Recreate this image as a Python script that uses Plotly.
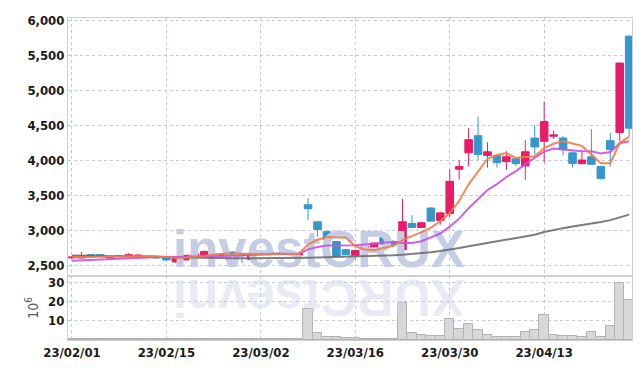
import plotly.graph_objects as go

# ---------------- data ----------------
date_ticks_idx = [0, 10, 20, 30, 40, 50]
date_ticks_text = ["23/02/01", "23/02/15", "23/03/02", "23/03/16", "23/03/30", "23/04/13"]

idx = list(range(60))

opens = [2605, 2603, 2652, 2652, 2603, 2625, 2625, 2625, 2622, 2622,
         2617, 2547, 2575, 2622, 2641, 2650, 2641, 2688, 2660, 2580,
         2680, 2685, 2655, 2655, 2645, 3365, 3121, 2980, 2839, 2721,
         2641, 2721, 2711, 2895, 2839, 2721, 3097, 3040, 3318, 3140,
         3238, 3873, 4108, 4353, 4070, 4070, 3981, 4024, 3921, 4320,
         4273, 4345, 4320, 4108, 3953, 4052, 3911, 4282, 4400, 5778]
highs = [2630, 2690, 2655, 2655, 2618, 2640, 2670, 2650, 2628, 2625,
         2620, 2600, 2645, 2680, 2710, 2660, 2670, 2695, 2665, 2675,
         2685, 2690, 2680, 2672, 2690, 3460, 3130, 2990, 2845, 2725,
         2715, 2780, 2820, 2900, 2855, 3450, 3215, 3120, 3325, 3265,
         3873, 4005, 4461, 4626, 4259, 4075, 4132, 4030, 4288, 4508,
         4840, 4424, 4353, 4132, 4118, 4447, 3915, 4391, 5400, 5790]
lows = [2590, 2600, 2620, 2618, 2598, 2620, 2620, 2620, 2608, 2598,
        2560, 2530, 2570, 2618, 2635, 2645, 2635, 2645, 2532, 2560,
        2650, 2660, 2650, 2650, 2620, 3150, 2909, 2815, 2620, 2645,
        2580, 2700, 2705, 2795, 2760, 2715, 3035, 3030, 3125, 3080,
        3190, 3723, 3911, 4005, 3897, 3897, 3864, 3920, 3723, 4085,
        3967, 4306, 4070, 3897, 3944, 3940, 3725, 3911, 4273, 4344]
closes = [2615, 2632, 2625, 2622, 2613, 2634, 2650, 2645, 2612, 2603,
          2575, 2594, 2641, 2660, 2697, 2655, 2665, 2651, 2640, 2669,
          2655, 2665, 2670, 2665, 2670, 3308, 3012, 2863, 2627, 2651,
          2711, 2768, 2815, 2800, 2792, 3121, 3040, 3107, 3130, 3248,
          3700, 3911, 4296, 4085, 4123, 3967, 4052, 3953, 4123, 4193,
          4555, 4365, 4155, 3956, 4005, 3944, 3742, 4155, 5393, 4461]

ma_short = [2615, 2618, 2620, 2620, 2621, 2625, 2629, 2633, 2631, 2629,
            2617, 2606, 2605, 2615, 2633, 2649, 2664, 2666, 2662, 2656,
            2656, 2656, 2660, 2665, 2665, 2796, 2865, 2904, 2896, 2892,
            2773, 2724, 2714, 2749, 2777, 2859, 2914, 2972, 3038, 3129,
            3245, 3419, 3657, 3848, 4023, 4076, 4105, 4036, 4044, 4058,
            4175, 4238, 4278, 4245, 4207, 4085, 3960, 3960, 4248, 4339]
ma_mid = [2562, 2568, 2575, 2582, 2590, 2597, 2604, 2610, 2618, 2625,
          2621, 2617, 2619, 2623, 2631, 2633, 2635, 2635, 2638, 2645,
          2653, 2660, 2663, 2663, 2661, 2726, 2761, 2782, 2780, 2779,
          2784, 2795, 2809, 2823, 2835, 2816, 2819, 2843, 2894, 2953,
          3052, 3166, 3315, 3443, 3576, 3661, 3762, 3847, 3946, 4040,
          4126, 4171, 4157, 4144, 4132, 4130, 4099, 4119, 4246, 4273]
ma_long = [2640, 2637, 2634, 2631, 2628, 2625, 2622, 2619, 2616, 2613,
           2610, 2607, 2605, 2603, 2601, 2600, 2599, 2598, 2598, 2598,
           2598, 2599, 2600, 2601, 2603, 2606, 2609, 2612, 2615, 2618,
           2622, 2626, 2631, 2636, 2642, 2650, 2660, 2672, 2686, 2703,
           2721, 2745, 2770, 2793, 2815, 2840, 2862, 2885, 2910, 2935,
           2975, 3005, 3030, 3052, 3072, 3092, 3118, 3145, 3185, 3224]

volume = [0.3, 0.3, 0.3, 0.3, 0.3, 0.3, 0.3, 0.3, 0.3, 0.3,
          0.3, 0.3, 0.3, 0.3, 0.3, 0.3, 0.3, 0.3, 0.3, 0.3,
          0.3, 0.3, 0.3, 0.3, 0.3, 16.3, 3.7, 1.6, 1.6, 0.8,
          0.8, 0.7, 0.7, 0.7, 0.7, 19.3, 3.7, 2.7, 2.0, 2.0,
          10.9, 5.7, 8.1, 5.2, 2.7, 1.6, 1.6, 1.6, 4.1, 5.2,
          13.1, 2.7, 2.0, 2.0, 1.6, 4.1, 1.6, 7.2, 29.8, 20.8]

price_ticks = [2500, 3000, 3500, 4000, 4500, 5000, 5500, 6000]
vol_ticks = [10, 20, 30]

# ---------------- styles ----------------
RED = "rgb(232,28,104)"
BLUE = "rgb(52,152,204)"
GRID = "rgb(196,200,218)"
BORDER = "rgb(205,205,212)"
FONT = "DejaVu Sans Condensed"
WM = "rgb(196,205,227)"

fig = go.Figure()

# watermark (drawn under the data)
fig.add_trace(go.Scatter(
    x=[26.15], y=[2660], mode="text", text=["<b>investCRUX</b>"],
    textfont=dict(family="Liberation Sans", size=51, color=WM),
    textposition="middle center", hoverinfo="skip", showlegend=False,
    xaxis="x", yaxis="y"))

fig.add_trace(go.Candlestick(
    x=idx, open=opens, high=highs, low=lows, close=closes,
    increasing=dict(line=dict(color=RED, width=1), fillcolor=RED),
    decreasing=dict(line=dict(color=BLUE, width=1), fillcolor=BLUE),
    whiskerwidth=0, showlegend=False, xaxis="x", yaxis="y"))

fig.add_trace(go.Scatter(x=idx, y=ma_long, mode="lines",
                         line=dict(color="rgba(110,110,110,0.9)", width=2),
                         showlegend=False, xaxis="x", yaxis="y"))
fig.add_trace(go.Scatter(x=idx, y=ma_mid, mode="lines",
                         line=dict(color="rgba(200,80,230,0.9)", width=2),
                         showlegend=False, xaxis="x", yaxis="y"))
fig.add_trace(go.Scatter(x=idx, y=ma_short, mode="lines",
                         line=dict(color="rgba(238,125,70,0.9)", width=2),
                         showlegend=False, xaxis="x", yaxis="y"))

fig.add_trace(go.Bar(x=idx, y=volume,
                     marker=dict(color="rgb(216,216,216)",
                                 line=dict(color="rgb(178,178,178)", width=1)),
                     showlegend=False, xaxis="x2", yaxis="y2"))

split = 65 / 327

axis_common = dict(showline=True, linecolor=BORDER, linewidth=1, mirror=True,
                   showgrid=True, gridcolor=GRID, griddash="dot", gridwidth=1,
                   zeroline=False, ticks="",
                   tickfont=dict(family=FONT, size=13, color="#1a1a1a",
                                 weight="bold"))

# the page body adds an 8px offset, so the figure is sized to compensate
fig.update_layout(
    width=634, height=361,
    margin=dict(l=60, r=10, t=5, b=29),
    paper_bgcolor="white", plot_bgcolor="white",
    bargap=0, boxgap=0.2, boxgroupgap=0,
    xaxis=dict(axis_common, range=[-0.42, 59.3], tickvals=date_ticks_idx,
               ticktext=date_ticks_text, showticklabels=False,
               rangeslider=dict(visible=False), anchor="y", matches="x2"),
    xaxis2=dict(axis_common, range=[-0.42, 59.3], tickvals=date_ticks_idx,
                ticktext=date_ticks_text, anchor="y2"),
    yaxis=dict(axis_common, domain=[split, 1], range=[2345, 6038],
               tickvals=price_ticks, tickformat=",", anchor="x"),
    yaxis2=dict(axis_common, domain=[0, split], range=[0, 33.3],
                tickvals=vol_ticks, anchor="x2",
                title=dict(text="10<sup>6</sup>", standoff=6,
                           font=dict(family=FONT, size=14, color="#555"))),
    annotations=[dict(
        text="<b>XURCtsevni</b>", textangle=180, x=26.15, xref="x", y=0.13,
        yref="paper", xanchor="center", yanchor="middle", showarrow=False,
        font=dict(family="Liberation Sans", size=51,
                  color="rgba(205,211,228,0.45)"))],
)

fig.write_html("out.html")
